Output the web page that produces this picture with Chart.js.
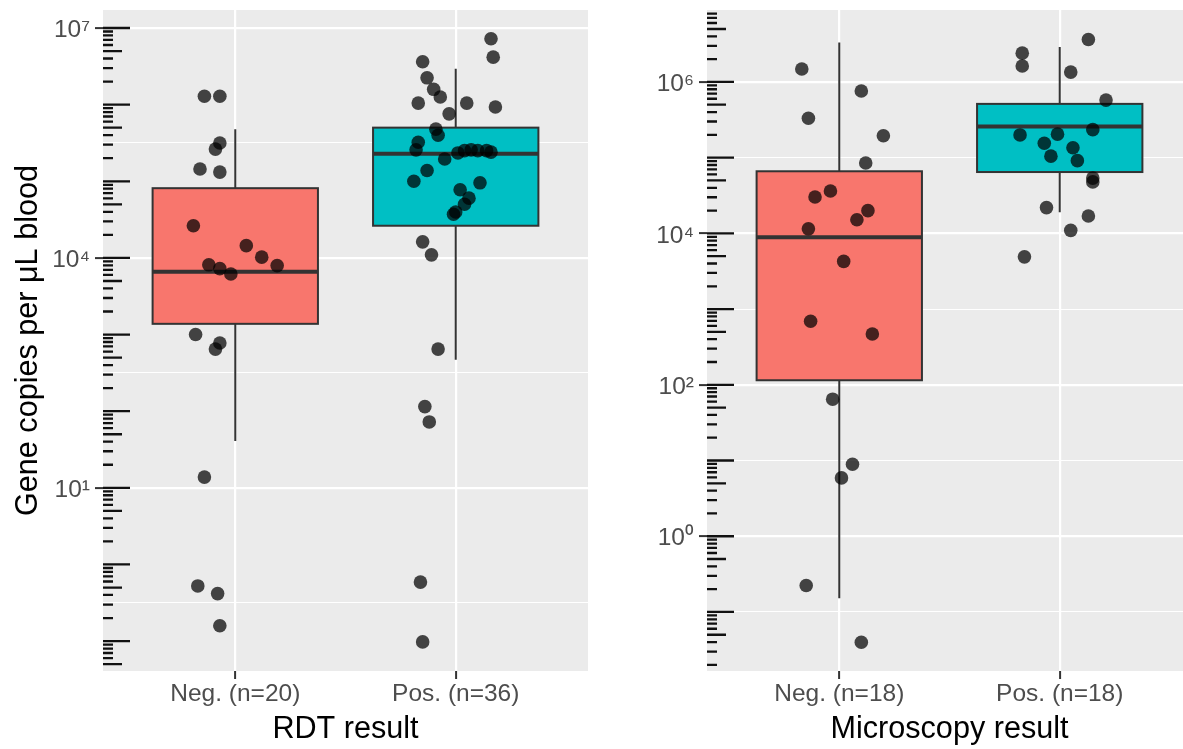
<!DOCTYPE html>
<html>
<head>
<meta charset="utf-8">
<script src="https://cdn.jsdelivr.net/npm/chart.js@4.4.1/dist/chart.umd.min.js"></script>
<style>
  html, body { margin: 0; padding: 0; background: #fff; width: 1183px; height: 749px; overflow: hidden; }
  canvas { position: absolute; top: 0; }
  #rdt { left: 0; }
  #micro { left: 600px; }
</style>
</head>
<body>
<canvas id="rdt" width="600" height="749"></canvas>
<canvas id="micro" width="600" height="749"></canvas>
<script>
// values are log10(gene copies per uL blood); jitter = horizontal offset in category units

// --- RDT panel ---
const rdtLabels = ['Neg. (n=20)', 'Pos. (n=36)'];
const rdtNegLog = [6.11, 6.11, 5.50, 5.42, 5.16, 5.12, 4.42, 4.16, 4.01, 3.90, 3.91, 3.86, 3.79, 3.00, 2.89, 2.81, 1.14, -0.28, -0.38, -0.80];
const rdtNegJitter = [-0.14, -0.07, -0.07, -0.09, -0.16, -0.07, -0.19, 0.05, 0.12, 0.19, -0.12, -0.07, -0.02, -0.18, -0.07, -0.09, -0.14, -0.17, -0.08, -0.07];
const rdtPosLog = [6.86, 6.62, 6.56, 6.35, 6.20, 6.10, 6.02, 6.02, 5.97, 5.88, 5.68, 5.60, 5.51, 5.41, 5.37, 5.40, 5.41, 5.40, 5.40, 5.38,
                   5.29, 5.14, 5.00, 4.98, 4.89, 4.78, 4.70, 4.60, 4.57, 4.21, 4.04, 2.81, 2.06, 1.86, -0.23, -1.01];
const rdtPosJitter = [0.16, 0.17, -0.15, -0.13, -0.10, -0.07, -0.17, 0.05, 0.18, -0.03, -0.09, -0.08, -0.17, -0.18, 0.01, 0.04, 0.07, 0.10, 0.14, 0.16,
                      -0.05, -0.13, -0.19, 0.11, 0.02, 0.06, 0.04, 0.00, -0.01, -0.15, -0.11, -0.08, -0.14, -0.12, -0.16, -0.15];
const rdtLow = [1.61, 2.67];
const rdtQ1 = [3.14, 4.42];
const rdtMedian = [3.82, 5.36];
const rdtQ3 = [4.91, 5.70];
const rdtHigh = [5.68, 6.47];
const rdtMajor = [1, 4, 7];
const rdtTickLabels = ['10¹', '10⁴', '10⁷'];
const rdtMinor = [-0.5, 2.5, 5.5];
const rdtRange = [-1.39, 7.235];

// --- Microscopy panel ---
const micLabels = ['Neg. (n=18)', 'Pos. (n=18)'];
const micNegLog = [6.17, 5.88, 5.52, 5.29, 4.93, 4.48, 4.56, 4.30, 4.18, 4.06, 3.63, 2.84, 2.67, 1.81, 0.95, 0.77, -0.65, -1.40];
const micNegJitter = [-0.17, 0.10, -0.14, 0.20, 0.12, -0.11, -0.04, 0.13, 0.08, -0.14, 0.02, -0.13, 0.15, -0.03, 0.06, 0.01, -0.15, 0.10];
const micPosLog = [6.56, 6.38, 6.21, 6.13, 5.76, 5.37, 5.30, 5.31, 5.19, 5.13, 5.02, 4.96, 4.73, 4.68, 4.34, 4.23, 4.04, 3.69];
const micPosJitter = [0.13, -0.17, -0.17, 0.05, 0.21, 0.15, -0.18, -0.01, -0.07, 0.06, -0.04, 0.08, 0.15, 0.15, -0.06, 0.13, 0.05, -0.16];
const micLow = [-0.82, 4.28];
const micQ1 = [2.06, 4.81];
const micMedian = [3.95, 5.41];
const micQ3 = [4.82, 5.71];
const micHigh = [6.52, 6.46];
const micMajor = [0, 2, 4, 6];
const micTickLabels = ['10⁰', '10²', '10⁴', '10⁶'];
const micMinor = [-1, 1, 3, 5];
const micRange = [-1.78, 6.95];

const FONT = '"Liberation Sans", Arial, Helvetica, sans-serif';
const BOX_COLORS = ['#F8766D', '#00BFC4'];
const BOX_WIDTH = 0.75;

const panelBg = {
  id: 'panelBg',
  beforeDraw(chart) {
    const { ctx, chartArea: a } = chart;
    ctx.save();
    ctx.fillStyle = '#EBEBEB';
    ctx.fillRect(a.left, a.top, a.right - a.left, a.bottom - a.top);
    ctx.restore();
  }
};

// boxes + whiskers, drawn under the jittered points
const boxPlot = {
  id: 'boxPlot',
  beforeDatasetsDraw(chart, args, opts) {
    const { ctx } = chart;
    const x = chart.scales.x, y = chart.scales.y;
    const s = opts.stats;
    ctx.save();
    ctx.strokeStyle = '#333333';
    s.median.forEach((m, i) => {
      const pos = i + 1;
      const cx = x.getPixelForValue(pos);
      const x0 = x.getPixelForValue(pos - BOX_WIDTH / 2);
      const x1 = x.getPixelForValue(pos + BOX_WIDTH / 2);
      const top = y.getPixelForValue(s.q3[i]);
      const bot = y.getPixelForValue(s.q1[i]);
      ctx.lineWidth = 2;
      ctx.beginPath();
      ctx.moveTo(cx, y.getPixelForValue(s.high[i]));
      ctx.lineTo(cx, top);
      ctx.moveTo(cx, bot);
      ctx.lineTo(cx, y.getPixelForValue(s.low[i]));
      ctx.stroke();
      ctx.fillStyle = BOX_COLORS[i];
      ctx.fillRect(x0, top, x1 - x0, bot - top);
      ctx.strokeRect(x0, top, x1 - x0, bot - top);
      const my = y.getPixelForValue(m);
      ctx.lineWidth = 4;
      ctx.beginPath();
      ctx.moveTo(x0, my);
      ctx.lineTo(x1, my);
      ctx.stroke();
    });
    ctx.restore();
  }
};

// annotation_logticks style marks along the left edge of the panel
const logTicks = {
  id: 'logTicks',
  afterDatasetsDraw(chart) {
    const { ctx, chartArea: a } = chart;
    const y = chart.scales.y;
    ctx.save();
    ctx.strokeStyle = '#111';
    ctx.lineWidth = 2.3;
    ctx.beginPath();
    for (let d = Math.floor(y.min); d <= Math.ceil(y.max); d++) {
      for (let k = 1; k <= 9; k++) {
        const v = d + Math.log10(k);
        if (v < y.min || v > y.max) continue;
        const len = k === 1 ? 27 : k === 5 ? 19 : 10;
        const py = y.getPixelForValue(v);
        ctx.moveTo(a.left, py);
        ctx.lineTo(a.left + len, py);
      }
    }
    ctx.stroke();
    ctx.restore();
  }
};

function makePanel(id, cfg) {
  const isMajor = v => cfg.major.includes(v);
  const datasets = cfg.groups.map((g, i) => ({
    data: g.values.map((v, j) => ({ x: i + 1 + g.jitter[j], y: v })),
    backgroundColor: 'rgba(0,0,0,0.72)',
    borderWidth: 0,
    pointRadius: 6.8,
    pointHoverRadius: 6.8
  }));

  return new Chart(document.getElementById(id), {
    type: 'scatter',
    data: { datasets },
    options: {
      responsive: false,
      animation: false,
      devicePixelRatio: 1,
      layout: { padding: { left: 0, top: 10, right: cfg.padRight, bottom: 0 } },
      plugins: {
        legend: { display: false },
        tooltip: { enabled: false },
        boxPlot: { stats: cfg.stats }
      },
      scales: {
        x: {
          type: 'linear', min: 0.4, max: 2.6, bounds: 'data',
          afterBuildTicks: s => { s.ticks = [{ value: 1 }, { value: 2 }]; },
          afterFit: s => { s.height = 78; s.paddingLeft = 0; s.paddingRight = 0; },
          ticks: {
            autoSkip: false, maxRotation: 0, padding: 1,
            color: '#4D4D4D', font: { family: FONT, size: 24.5 },
            callback: v => cfg.labels[Math.round(v) - 1]
          },
          grid: { color: '#ffffff', lineWidth: 2.2, tickLength: 8, tickWidth: 2, tickColor: '#333333' },
          border: { display: false },
          title: {
            display: true, text: cfg.xTitle, color: '#000',
            font: { family: FONT, size: 30.6 }, padding: { top: 0, bottom: 1 }
          }
        },
        y: {
          type: 'linear', min: cfg.range[0], max: cfg.range[1], bounds: 'data',
          afterBuildTicks: s => {
            s.ticks = cfg.major.concat(cfg.minor).sort((a, b) => a - b).map(v => ({ value: v }));
          },
          afterFit: s => { s.width = cfg.axisWidth; s.paddingTop = 0; s.paddingBottom = 0; },
          ticks: {
            autoSkip: false, padding: 5, labelOffset: 2.5,
            color: '#4D4D4D', font: { family: FONT, size: 24.5 },
            callback: v => {
              const i = cfg.major.indexOf(v);
              return i < 0 ? '' : cfg.tickLabels[i];
            }
          },
          grid: {
            color: '#ffffff',
            lineWidth: c => isMajor(c.tick.value) ? 2.2 : 1.1,
            tickLength: 8, tickWidth: 2,
            tickColor: c => isMajor(c.tick.value) ? '#333333' : 'rgba(0,0,0,0)'
          },
          border: { display: false },
          title: cfg.yTitle
            ? { display: true, text: cfg.yTitle, color: '#000', font: { family: FONT, size: 30.6 }, padding: { top: 10, bottom: 0 } }
            : { display: false }
        }
      }
    },
    plugins: [panelBg, boxPlot, logTicks]
  });
}

makePanel('rdt', {
  labels: rdtLabels,
  groups: [{ values: rdtNegLog, jitter: rdtNegJitter }, { values: rdtPosLog, jitter: rdtPosJitter }],
  stats: { low: rdtLow, q1: rdtQ1, median: rdtMedian, q3: rdtQ3, high: rdtHigh },
  major: rdtMajor, minor: rdtMinor, tickLabels: rdtTickLabels, range: rdtRange,
  xTitle: 'RDT result', yTitle: 'Gene copies per μL blood',
  axisWidth: 103, padRight: 12
});

makePanel('micro', {
  labels: micLabels,
  groups: [{ values: micNegLog, jitter: micNegJitter }, { values: micPosLog, jitter: micPosJitter }],
  stats: { low: micLow, q1: micQ1, median: micMedian, q3: micQ3, high: micHigh },
  major: micMajor, minor: micMinor, tickLabels: micTickLabels, range: micRange,
  xTitle: 'Microscopy result', yTitle: null,
  axisWidth: 107, padRight: 8
});
</script>
</body>
</html>
